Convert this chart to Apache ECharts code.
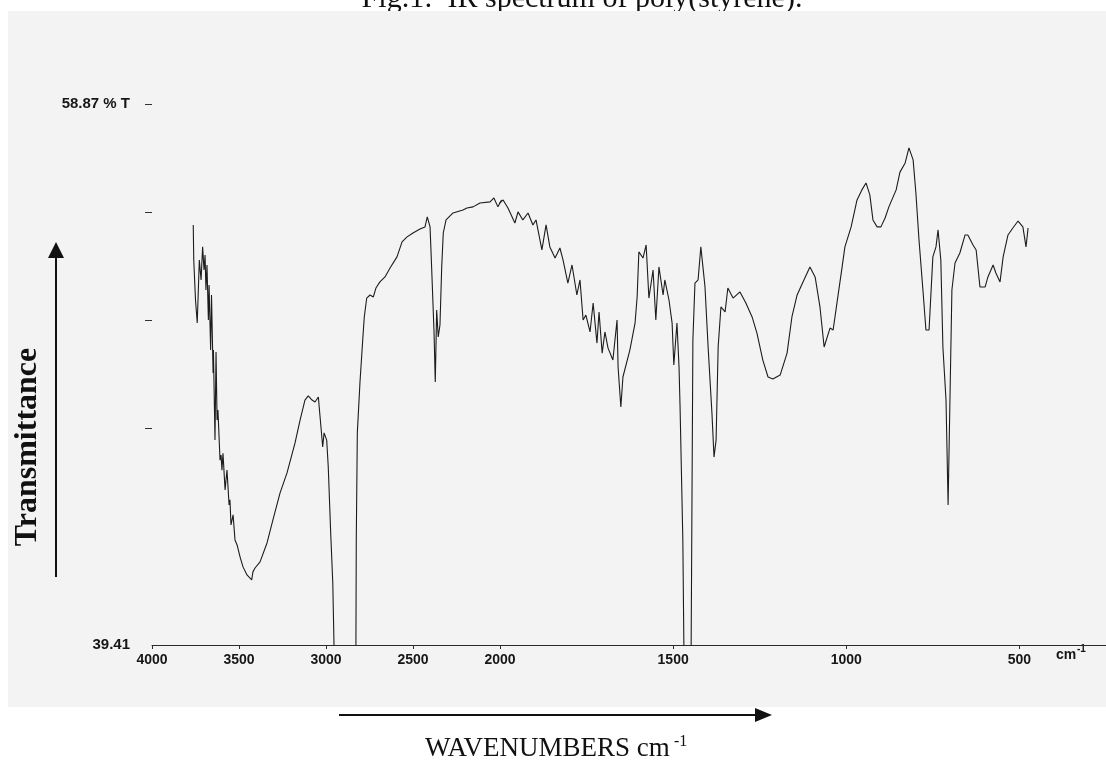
<!DOCTYPE html>
<html>
<head>
<meta charset="utf-8">
<script src="https://cdn.jsdelivr.net/npm/echarts@6/dist/echarts.min.js"></script>
<style>
  html, body { margin: 0; padding: 0; background: #ffffff; }
  #chart { width: 1106px; height: 766px; }
</style>
</head>
<body>
<div id="chart"></div>
<script>
// IR spectrum of polystyrene: wavenumber (cm-1) vs. transmittance (%T)
const wavenumbers = [
  3763, 3760, 3750, 3740, 3728, 3718, 3709, 3701, 3695, 3690, 3684, 3676, 3672, 3663, 3658,
  3649, 3647, 3638, 3632, 3626, 3621, 3609, 3603, 3598, 3592, 3580, 3569, 3557, 3552, 3546,
  3534, 3523, 3511, 3494, 3477, 3454, 3427, 3420, 3408, 3379, 3339, 3305, 3264, 3224, 3178,
  3149, 3121, 3102, 3080, 3063, 3044, 3034, 3019, 3011, 2996, 2987, 2973, 2961, 2954, 2891,
  2831, 2828, 2826, 2820, 2805, 2789, 2780, 2766, 2747, 2728, 2713, 2690, 2661, 2632, 2592,
  2563, 2534, 2500, 2460, 2431, 2418, 2402, 2393, 2379, 2372, 2364, 2355, 2345, 2335, 2326,
  2310, 2270, 2213, 2190, 2155, 2115, 2057, 2035, 2012, 1991, 1977, 1957, 1948, 1934, 1919,
  1905, 1896, 1879, 1867, 1856, 1841, 1827, 1818, 1804, 1792, 1778, 1769, 1760, 1752, 1740,
  1731, 1720, 1714, 1705, 1697, 1688, 1674, 1662, 1659, 1651, 1645, 1625, 1610, 1604, 1599,
  1587, 1578, 1570, 1558, 1550, 1541, 1529, 1524, 1512, 1503, 1498, 1489, 1483, 1480, 1472,
  1469, 1458, 1448, 1443, 1437, 1428, 1420, 1408, 1399, 1388, 1382, 1376, 1370, 1362, 1350,
  1342, 1327, 1307, 1290, 1272, 1258, 1241, 1226, 1212, 1191, 1171, 1157, 1142, 1125, 1105,
  1090, 1076, 1064, 1047, 1038, 1027, 1012, 1004, 986, 969, 955, 943, 932, 923, 911,
  900, 888, 877, 856, 845, 830, 819, 807, 799, 790, 778, 770, 761, 750, 741,
  735, 727, 721, 712, 706, 701, 695, 686, 672, 657, 649, 634, 625, 614, 599,
  591, 576, 568, 556, 547, 533, 519, 504, 490, 481, 475
];
const transmittance = [
  54.52, 53.26, 51.82, 50.99, 53.26, 52.54, 53.73, 52.90, 53.44, 52.18, 53.08, 51.10, 52.36, 50.02, 52.00,
  49.19, 50.02, 46.78, 49.95, 47.50, 47.86, 46.06, 46.24, 45.70, 46.31, 44.99, 45.70, 44.45, 44.63, 43.73,
  44.09, 43.19, 43.01, 42.58, 42.22, 41.93, 41.75, 42.04, 42.18, 42.40, 43.08, 43.91, 44.88, 45.60, 46.68,
  47.50, 48.22, 48.37, 48.22, 48.15, 48.33, 47.61, 46.53, 47.04, 46.78, 45.81, 43.44, 41.64, 39.41, 37.40,
  37.40, 39.41, 43.19, 47.04, 48.83, 50.38, 51.21, 51.89, 52.00, 51.93, 52.25, 52.47, 52.65, 52.97, 53.37,
  53.91, 54.09, 54.23, 54.37, 54.45, 54.81, 54.45, 53.01, 50.63, 48.87, 51.46, 50.49, 50.92, 53.01, 54.23,
  54.70, 54.95, 55.06, 55.13, 55.17, 55.31, 55.35, 55.49, 55.17, 55.42, 55.13, 54.59, 54.99, 54.70, 54.95,
  54.52, 54.70, 53.62, 54.52, 53.73, 53.33, 53.69, 53.26, 52.43, 53.08, 52.00, 52.54, 51.10, 51.28, 50.67,
  51.71, 50.27, 51.39, 49.91, 50.67, 50.09, 49.66, 51.10, 49.41, 47.97, 49.05, 50.02, 50.99, 51.93, 53.55,
  53.33, 53.80, 51.89, 52.90, 51.10, 53.01, 52.00, 52.54, 51.82, 50.99, 49.48, 50.99, 49.41, 47.97, 43.19,
  39.41, 37.40, 39.41, 50.38, 52.43, 52.54, 53.73, 52.29, 50.13, 47.76, 46.17, 46.78, 50.13, 51.57, 51.39,
  52.25, 51.89, 52.11, 51.71, 51.21, 50.63, 49.66, 49.05, 48.98, 49.12, 49.91, 51.21, 52.00, 52.47, 53.01,
  52.65, 51.57, 50.13, 50.81, 50.74, 51.71, 53.01, 53.73, 54.45, 55.42, 55.78, 56.03, 55.60, 54.70, 54.45,
  54.45, 54.77, 55.17, 55.78, 56.42, 56.75, 57.29, 56.86, 55.67, 53.98, 52.07, 50.74, 50.74, 53.37, 53.73,
  54.34, 53.26, 50.13, 48.22, 44.45, 47.97, 52.18, 53.15, 53.51, 54.16, 54.16, 53.80, 53.62, 52.29, 52.29,
  52.65, 53.08, 52.79, 52.47, 53.37, 54.16, 54.41, 54.66, 54.45, 53.73, 54.41
];
const xTicksHigh = [4000, 3500, 3000, 2500];
const xTicksLow = [2000, 1500, 1000, 500];
const yTickValues = [58.87, 54.98, 51.09, 47.20];
const yLabelValues = [58.87, 39.41];
const yMin = 39.41, yMax = 58.87;

const pairs = wavenumbers.map((w, i) => [w, transmittance[i]]);
const highData = pairs.filter(p => p[0] >= 1991);
const lowData = pairs.filter(p => p[0] <= 2012);

const labelFont = { fontFamily: 'Liberation Sans, Arial, sans-serif', fontWeight: 'bold', fontSize: 14, color: '#161616' };
const axisColor = '#2a2a2a';
const plainNumber = v => String(Math.round(v));

const chart = echarts.init(document.getElementById('chart'), null, { renderer: 'canvas' });
chart.setOption({
  animation: false,
  backgroundColor: 'transparent',
  grid: [
    { left: 152, top: 104, width: 348, height: 541, outerBoundsMode: 'none', containLabel: false },
    { left: 500, top: 104, width: 606, height: 541, outerBoundsMode: 'none', containLabel: false }
  ],
  xAxis: [
    {
      type: 'value', gridIndex: 0, min: 2000, max: 4000, inverse: true,
      axisLine: { show: true, lineStyle: { color: axisColor, width: 1 } },
      axisTick: { show: true, length: 4, customValues: xTicksHigh, lineStyle: { color: axisColor } },
      axisLabel: Object.assign({ margin: 8, customValues: xTicksHigh, formatter: plainNumber }, labelFont),
      splitLine: { show: false }
    },
    {
      type: 'value', gridIndex: 1, min: 250, max: 2000, inverse: true,
      axisLine: { show: true, lineStyle: { color: axisColor, width: 1 } },
      axisTick: { show: true, length: 4, customValues: xTicksLow, lineStyle: { color: axisColor } },
      axisLabel: Object.assign({ margin: 8, customValues: xTicksLow, formatter: plainNumber }, labelFont),
      splitLine: { show: false }
    }
  ],
  yAxis: [
    {
      type: 'value', gridIndex: 0, min: yMin, max: yMax,
      axisLine: { show: false },
      axisTick: { show: true, length: 7, customValues: yTickValues, lineStyle: { color: '#333' } },
      axisLabel: Object.assign({}, labelFont, {
        fontSize: 15, margin: 22, customValues: yLabelValues,
        formatter: v => (Math.abs(v - 58.87) < 0.01 ? '58.87 % T' : v.toFixed(2))
      }),
      splitLine: { show: false }
    },
    {
      type: 'value', gridIndex: 1, min: yMin, max: yMax, show: false,
      splitLine: { show: false }
    }
  ],
  series: [
    {
      type: 'line', xAxisIndex: 0, yAxisIndex: 0, data: highData,
      showSymbol: false, symbol: 'none', clip: true,
      lineStyle: { color: '#1c1c1c', width: 1.1 }
    },
    {
      type: 'line', xAxisIndex: 1, yAxisIndex: 1, data: lowData,
      showSymbol: false, symbol: 'none', clip: true,
      lineStyle: { color: '#1c1c1c', width: 1.1 }
    }
  ],
  graphic: [
    {
      type: 'text', z: -2, silent: true,
      style: {
        text: 'Fig.1:  IR spectrum of poly(styrene).', x: 582, y: 14.5,
        align: 'center', verticalAlign: 'bottom',
        font: '30px "Liberation Serif", "Times New Roman", serif', fill: '#111'
      }
    },
    {
      type: 'rect', z: -1, silent: true,
      shape: { x: 8, y: 11, width: 1098, height: 696 },
      style: { fill: '#f3f3f3' }
    },
    {
      type: 'text', silent: true,
      style: {
        text: 'cm', x: 1056, y: 662, verticalAlign: 'bottom',
        font: 'bold 14px "Liberation Sans", Arial, sans-serif', fill: '#161616'
      }
    },
    {
      type: 'text', silent: true,
      style: {
        text: '-1', x: 1077, y: 654, verticalAlign: 'bottom',
        font: 'bold 10px "Liberation Sans", Arial, sans-serif', fill: '#161616'
      }
    },
    {
      type: 'text', silent: true, rotation: Math.PI / 2, x: 28, y: 447,
      style: {
        text: 'Transmittance', x: 0, y: 0, align: 'center', verticalAlign: 'middle',
        font: 'bold 32px "Liberation Serif", "Times New Roman", serif', fill: '#111'
      }
    },
    {
      type: 'line', silent: true,
      shape: { x1: 56, y1: 577, x2: 56, y2: 254 },
      style: { stroke: '#111', lineWidth: 2 }
    },
    {
      type: 'polygon', silent: true,
      shape: { points: [[56, 242], [48, 258], [64, 258]] },
      style: { fill: '#111' }
    },
    {
      type: 'line', silent: true,
      shape: { x1: 339, y1: 715, x2: 758, y2: 715 },
      style: { stroke: '#111', lineWidth: 2 }
    },
    {
      type: 'polygon', silent: true,
      shape: { points: [[772, 715], [755, 708], [755, 722]] },
      style: { fill: '#111' }
    },
    {
      type: 'text', silent: true,
      style: {
        text: 'WAVENUMBERS cm', x: 425, y: 762, verticalAlign: 'bottom',
        font: '27px "Liberation Serif", "Times New Roman", serif', fill: '#111'
      }
    },
    {
      type: 'text', silent: true,
      style: {
        text: '-1', x: 674, y: 750, verticalAlign: 'bottom',
        font: '16px "Liberation Serif", "Times New Roman", serif', fill: '#111'
      }
    }
  ]
});
</script>
</body>
</html>
